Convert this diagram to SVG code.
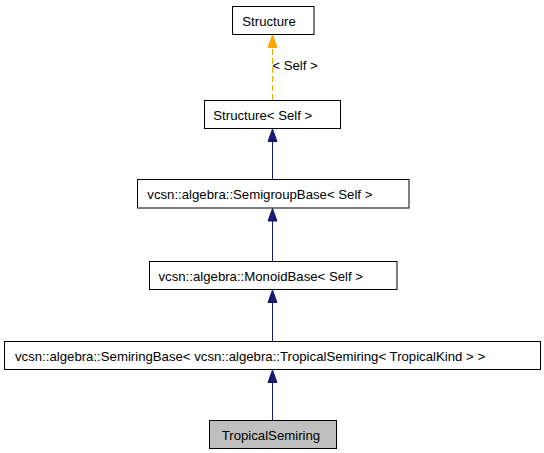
<svg xmlns="http://www.w3.org/2000/svg" width="544" height="453" viewBox="0 0 544 453">
<defs>
<style>
.box{fill:#fff;stroke:#000;stroke-width:1}
.t{font-family:"Liberation Sans",Arial,Helvetica,sans-serif;font-size:13.2px;fill:#000}
.e{stroke:#191970;stroke-width:1;fill:none}
.o{stroke:#ffa500;stroke-width:1;fill:none;stroke-dasharray:6,3}
.hn{fill:#191970;stroke:#191970;stroke-width:1}
.ho{fill:#ffa500;stroke:#ffa500;stroke-width:1}
</style>
</defs>
<g id="edges">
<line class="o" x1="272.5" y1="100" x2="272.5" y2="47"/>
<polygon class="ho" points="272.5,35 268,47.5 277,47.5"/>
<text class="t" x="272.3" y="70">&lt; Self &gt;</text>
<line class="e" x1="272.5" y1="179" x2="272.5" y2="141"/>
<polygon class="hn" points="272.5,129 268,141.5 277,141.5"/>
<line class="e" x1="272.5" y1="261" x2="272.5" y2="221"/>
<polygon class="hn" points="272.5,208.5 268,221 277,221"/>
<line class="e" x1="272.5" y1="341" x2="272.5" y2="302"/>
<polygon class="hn" points="272.5,290 268,302.5 277,302.5"/>
<line class="e" x1="272.5" y1="420" x2="272.5" y2="382"/>
<polygon class="hn" points="272.5,370 268,382.5 277,382.5"/>
</g>
<g id="n_structure">
<rect class="box" x="232.5" y="6.5" width="81.5" height="28"/>
<text class="t" x="242.3" y="26">Structure</text>
</g>
<g id="n_structure_self">
<rect class="box" x="204.5" y="100.5" width="136" height="28"/>
<text class="t" x="213.3" y="120">Structure&lt; Self &gt;</text>
</g>
<g id="n_semigroup">
<rect class="box" x="137.5" y="179.5" width="271.5" height="28.5"/>
<text class="t" x="147.3" y="199">vcsn::algebra::SemigroupBase&lt; Self &gt;</text>
</g>
<g id="n_monoid">
<rect class="box" x="149.5" y="261.5" width="247.5" height="28"/>
<text class="t" x="158.5" y="281">vcsn::algebra::MonoidBase&lt; Self &gt;</text>
</g>
<g id="n_semiring">
<rect class="box" x="4.5" y="341.5" width="536" height="28"/>
<text class="t" x="15" y="361">vcsn::algebra::SemiringBase&lt; vcsn::algebra::TropicalSemiring&lt; TropicalKind &gt; &gt;</text>
</g>
<g id="n_tropical">
<rect x="209.5" y="420.5" width="127" height="28" fill="#bfbfbf" stroke="#000"/>
<text class="t" x="221.7" y="439.5">TropicalSemiring</text>
</g>
</svg>
